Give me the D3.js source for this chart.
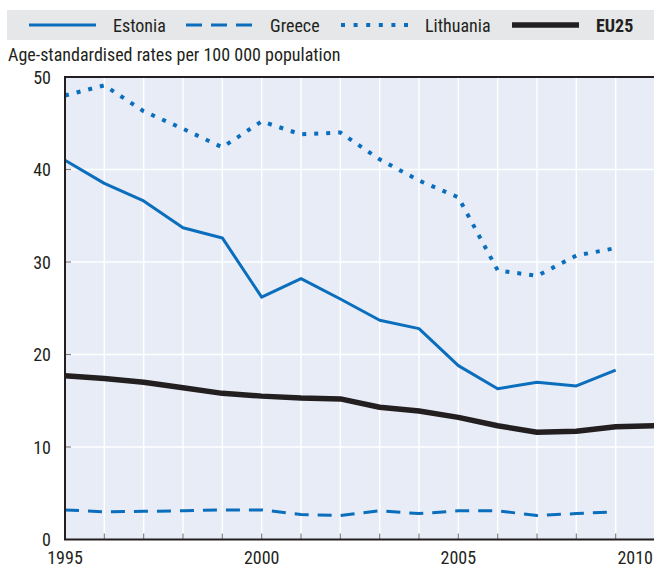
<!DOCTYPE html>
<html>
<head>
<meta charset="utf-8">
<script src="https://cdn.jsdelivr.net/npm/d3@7"></script>
<style>
  body { margin: 0; background: #fff; }
  svg text { font-family: "Liberation Sans Narrow", "Roboto Condensed", "Liberation Sans", sans-serif; fill: #231f20; }
</style>
</head>
<body>
<svg id="chart" width="654" height="570"></svg>
<script>
const years = d3.range(1995, 2011);
const estonia = [41.0, 38.5, 36.6, 33.7, 32.6, 26.2, 28.2, 26.0, 23.7, 22.8, 18.8, 16.3, 17.0, 16.6, 18.3];
const greece = [3.2, 3.0, 3.05, 3.1, 3.2, 3.2, 2.7, 2.6, 3.1, 2.8, 3.1, 3.1, 2.6, 2.8, 3.0];
const lithuania = [48.0, 49.1, 46.3, 44.4, 42.4, 45.2, 43.8, 44.0, 41.1, 38.8, 37.0, 29.1, 28.5, 30.7, 31.5];
const eu25 = [17.7, 17.4, 17.0, 16.4, 15.8, 15.5, 15.3, 15.2, 14.3, 13.9, 13.2, 12.3, 11.6, 11.7, 12.2, 12.3];
const yTicks = [0, 10, 20, 30, 40, 50];
const xTickLabels = [1995, 2000, 2005, 2010];

const series = [
  { name: 'Estonia', values: estonia, color: '#0a6ebd', width: 3, dash: null, legDash: null },
  { name: 'Greece', values: greece, color: '#0a6ebd', width: 3, dash: '14,9', legDash: '16,9' },
  { name: 'Lithuania', values: lithuania, color: '#0a6ebd', width: 4, dash: '4,8', legDash: '4,8.6' },
  { name: 'EU25', values: eu25, color: '#231f20', width: 5.5, dash: null, legDash: null, bold: true }
];

const svg = d3.select('#chart');
const plotL = 65, plotR = 655, plotT = 77, plotB = 539.5;

const x = d3.scaleLinear().domain([1995, 2010]).range([plotL, plotR]);
const y = d3.scaleLinear().domain([0, 50]).range([plotB, plotT]);

// legend
const legend = svg.append('g');
legend.append('rect').attr('x', 7).attr('y', 10).attr('width', 647).attr('height', 30).attr('fill', '#e6e7e8');
const legendX = [29, 186, 341, 512];
series.forEach((s, i) => {
  legend.append('line')
    .attr('x1', legendX[i]).attr('x2', legendX[i] + 67)
    .attr('y1', 25).attr('y2', 25)
    .attr('stroke', s.color)
    .attr('stroke-width', s.width)
    .attr('stroke-dasharray', s.legDash);
  legend.append('text')
    .attr('x', legendX[i] + 84).attr('y', 32)
    .attr('font-size', 18)
    .attr('font-weight', s.bold ? 'bold' : 'normal')
    .text(s.name);
});

svg.append('text')
  .attr('x', 8).attr('y', 61)
  .attr('font-size', 18)
  .text('Age-standardised rates per 100 000 population');

// plot background
svg.append('rect')
  .attr('x', plotL).attr('y', plotT)
  .attr('width', plotR - plotL).attr('height', plotB - plotT)
  .attr('fill', '#e7ecf6');

// grid
svg.append('g').selectAll('line')
  .data(years.slice(1))
  .enter().append('line')
  .attr('x1', d => x(d)).attr('x2', d => x(d))
  .attr('y1', plotT).attr('y2', plotB)
  .attr('stroke', '#fff').attr('stroke-width', 1.5);

svg.append('g').selectAll('line')
  .data(yTicks.slice(1, -1))
  .enter().append('line')
  .attr('x1', plotL).attr('x2', plotR)
  .attr('y1', d => y(d)).attr('y2', d => y(d))
  .attr('stroke', '#fff').attr('stroke-width', 1.5);

// ticks
svg.append('g').selectAll('line')
  .data(years.slice(1))
  .enter().append('line')
  .attr('x1', d => x(d)).attr('x2', d => x(d))
  .attr('y1', plotB).attr('y2', plotB - 6)
  .attr('stroke', '#808080').attr('stroke-width', 1.2);

svg.append('g').selectAll('line')
  .data(yTicks.slice(1, -1))
  .enter().append('line')
  .attr('x1', plotL).attr('x2', plotL + 6)
  .attr('y1', d => y(d)).attr('y2', d => y(d))
  .attr('stroke', '#808080').attr('stroke-width', 1.2);

// lines
const line = d3.line()
  .x((d, i) => x(years[i]))
  .y(d => y(d));

series.forEach(s => {
  svg.append('path')
    .datum(s.values)
    .attr('d', line)
    .attr('fill', 'none')
    .attr('stroke', s.color)
    .attr('stroke-width', s.width)
    .attr('stroke-dasharray', s.dash)
    .attr('stroke-linejoin', 'round');
});

// frame
svg.append('path')
  .attr('d', `M${plotR},${plotT}H${plotL}V${plotB}H${plotR}`)
  .attr('fill', 'none')
  .attr('stroke', '#231f20')
  .attr('stroke-width', 2);

// axis labels
svg.append('g').selectAll('text')
  .data(yTicks)
  .enter().append('text')
  .attr('x', 51).attr('y', d => y(d) + 6.5)
  .attr('text-anchor', 'end')
  .attr('font-size', 18)
  .text(d => d);

svg.append('g').selectAll('text')
  .data(xTickLabels)
  .enter().append('text')
  .attr('x', d => d === 2010 ? 653 : x(d))
  .attr('y', 564)
  .attr('text-anchor', d => d === 2010 ? 'end' : 'middle')
  .attr('font-size', 18)
  .text(d => d);
</script>
</body>
</html>
